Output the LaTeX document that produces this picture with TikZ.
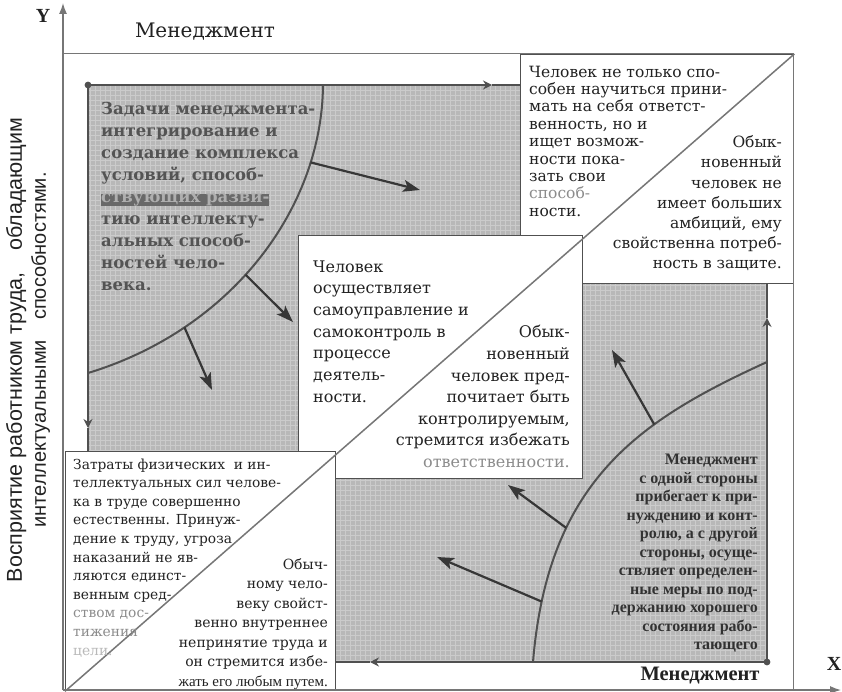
\documentclass[tikz,border=0pt]{standalone}
\usepackage{fontspec}
\setmainfont{DejaVu Serif}
\newfontfamily\timesface{Liberation Serif}
\newfontfamily\sideface{Liberation Sans}
\usetikzlibrary{arrows.meta}

\definecolor{greyfill}{RGB}{184,184,184}
\definecolor{inkdark}{RGB}{34,34,34}
\definecolor{ulink}{RGB}{84,84,84}
\definecolor{lrink}{RGB}{50,50,50}
\definecolor{edgegrey}{RGB}{80,80,80}
\definecolor{pointgrey}{RGB}{55,55,55}
\definecolor{axisgrey}{RGB}{118,118,118}
\definecolor{fadeink}{RGB}{140,140,140}
\definecolor{paleink}{RGB}{185,185,185}
\definecolor{garbleback}{RGB}{105,105,105}
\definecolor{garbleink}{RGB}{175,175,175}

\begin{document}
\begin{tikzpicture}[x=1pt,y=-1pt,
  greyzone/.style={fill=greyfill},
  texture/.style={draw=white, draw opacity=0.28, line width=0.5pt},
  rim/.style={draw=edgegrey, line width=2.6pt},
  rimtip/.style={rim, -{Stealth[length=9pt,width=9pt]}},
  trend/.style={draw=edgegrey, line width=2pt},
  pointer/.style={draw=pointgrey, line width=2.2pt, -{Stealth[length=17pt,width=12pt,inset=4pt]}},
  textbox/.style={draw=edgegrey, line width=1.3pt, fill=white, inner sep=0pt, anchor=north west},
  splitline/.style={draw=axisgrey, line width=1.5pt},
  axisline/.style={draw=axisgrey, line width=1.3pt},
  frameline/.style={draw=axisgrey, line width=1pt},
  blockL/.style={anchor=north west, inner sep=0pt, align=left, text=inkdark},
  blockR/.style={anchor=north east, inner sep=0pt, align=right, text=inkdark},
]
\useasboundingbox (0,0) rectangle (842,692);
\fill[white] (0,0) rectangle (842,692);

% shaded fields
\coordinate (ulNW) at (88,85);
\coordinate (ulSE) at (520,451);
\coordinate (lrNW) at (300,283);
\coordinate (lrSE) at (767,662);
\fill[greyzone] (ulNW) rectangle (ulSE);
\fill[greyzone] (lrNW) rectangle (lrSE);
\begin{scope}
  \clip (ulNW) rectangle (ulSE);
  \draw[texture, step=5pt] (88,451) grid (520,85);
\end{scope}
\begin{scope}
  \clip (lrNW) rectangle (lrSE);
  \draw[texture, step=5pt] (300,662) grid (767,283);
\end{scope}

% upper-left field: text, curve, pointers
\node[blockL, text=ulink, font={\bfseries\fontsize{16.5}{22}\selectfont}] (ultext) at (101,102)
  {Задачи менеджмента-\\интегрирование и\\создание комплекса\\условий, способ-\\
   {\fboxsep=0pt\colorbox{garbleback}{\textcolor{garbleink}{ствующих разви-}}}\\
   тию интеллекту-\\альных способ-\\ностей чело-\\века.};

\coordinate (ulbase) at (88,373);
\coordinate (ulc1) at (230,330);
\coordinate (ulc2) at (322,210);
\coordinate (ultop) at (323,85);
\draw[trend] (ulbase) .. controls (ulc1) and (ulc2) .. (ultop)
  coordinate[pos=0.25] (ulp3) coordinate[pos=0.45] (ulp2) coordinate[pos=0.79] (ulp1);
\coordinate (ula1) at (420,190);
\coordinate (ula2) at (293,322);
\coordinate (ula3) at (212,390);
\draw[pointer] (ulp1) -- (ula1);
\draw[pointer] (ulp2) -- (ula2);
\draw[pointer] (ulp3) -- (ula3);

% lower-right field: text, curve, pointers
\node[blockR, text=lrink, font={\timesface\bfseries\fontsize{16}{18.5}\selectfont}] (lrtext) at (758,454)
  {Менеджмент\\с одной стороны\\прибегает к при-\\нуждению и конт-\\ролю, а с другой\\
   стороны, осуще-\\ствляет определен-\\ные меры по под-\\держанию хорошего\\
   состояния рабо-\\тающего};

\coordinate (lrbase) at (533,662);
\coordinate (lrc1) at (548,480);
\coordinate (lrc2) at (640,420);
\coordinate (lrend) at (767,362);
\draw[trend] (lrbase) .. controls (lrc1) and (lrc2) .. (lrend)
  coordinate[pos=0.12] (lrp1) coordinate[pos=0.3] (lrp2) coordinate[pos=0.67] (lrp3);
\coordinate (lra1) at (437,557);
\coordinate (lra2) at (508,485);
\coordinate (lra3) at (612,350);
\draw[pointer] (lrp1) -- (lra1);
\draw[pointer] (lrp2) -- (lra2);
\draw[pointer] (lrp3) -- (lra3);

% heavy rims of the shaded fields
\coordinate (ulTopTip) at (492,85);
\coordinate (ulTopEnd) at (520,85);
\coordinate (ulLeftTip) at (88,428);
\coordinate (ulLeftEnd) at (88,451);
\draw[rimtip] (ulNW) -- (ulTopTip);
\draw[rim] (ulTopTip) -- (ulTopEnd);
\draw[rimtip] (ulNW) -- (ulLeftTip);
\draw[rim] (ulLeftTip) -- (ulLeftEnd);
\fill[edgegrey] (ulNW) circle[radius=3.4pt];

\coordinate (lrUpTip) at (767,318);
\coordinate (lrUpEnd) at (767,283);
\coordinate (lrLeftTip) at (370,662);
\coordinate (lrLeftEnd) at (335,662);
\draw[rimtip] (lrSE) -- (lrUpTip);
\draw[rim] (lrUpTip) -- (lrUpEnd);
\draw[rimtip] (lrSE) -- (lrLeftTip);
\draw[rim] (lrLeftTip) -- (lrLeftEnd);
\fill[edgegrey] (lrSE) circle[radius=3.4pt];

% white panels
\node[textbox, minimum width=273pt, minimum height=229pt] (trbox) at (520,54) {};
\node[textbox, minimum width=284pt, minimum height=243pt] (ctbox) at (298,235) {};
\node[textbox, minimum width=270pt, minimum height=239pt] (blbox) at (65,451) {};
\draw[splitline] (blbox.south west) -- (trbox.north east);

% top-right panel
\node[blockL, font={\fontsize{15.5}{17.4}\selectfont}] (trleft) at (529,65.6)
  {Человек не только спо-\\собен научиться прини-\\мать на себя ответст-\\венность, но и\\
   ищет возмож-\\ности пока-\\зать свои\\\textcolor{fadeink}{способ-}\\ности.};
\node[blockR, font={\fontsize{15.5}{20.1}\selectfont}] (trright) at (782,135.6)
  {Обык-\\новенный\\человек не\\имеет больших\\амбиций, ему\\свойственна потреб-\\ность в защите.};

% central panel
\node[blockL, font={\fontsize{16}{21.7}\selectfont}] (ctleft) at (313,260.3)
  {Человек\\осуществляет\\самоуправление и\\самоконтроль в\\процессе\\деятель-\\ности.};
\node[blockR, font={\fontsize{16}{21.6}\selectfont}] (ctright) at (570,325.3)
  {Обык-\\новенный\\человек пред-\\почитает быть\\контролируемым,\\стремится избежать\\
   \textcolor{fadeink}{ответственности.}};

% bottom-left panel
\node[blockL, font={\fontsize{13.8}{18.6}\selectfont}] (blleft) at (73,458.4)
  {Затраты физических\ \ и ин-\\теллектуальных сил челове-\\ка в труде совершенно\\
   естественны. Принуж-\\дение к труду, угроза\\наказаний не яв-\\ляются единст-\\
   венным сред-\\\textcolor{fadeink}{ством дос-}\\\textcolor{fadeink}{тижения}\\
   \textcolor{paleink}{цели.}};
\node[blockR, font={\fontsize{14}{19.5}\selectfont}] (blright) at (328,558.3)
  {Обыч-\\ному чело-\\веку свойст-\\венно внутреннее\\непринятие труда и\\
   он стремится избе-\\{\timesface\fontsize{15}{19.5}\selectfont жать его любым путем.}};

% frame and axes
\coordinate (origin) at (63,690);
\coordinate (ytip) at (63,3);
\coordinate (xtip) at (841,690);
\coordinate (frameTL) at (63,54);
\coordinate (frameTR) at (793,54);
\coordinate (frameBR) at (793,690);
\draw[frameline] (frameTL) -- (frameTR) -- (frameBR);
\draw[axisline, -{Latex[length=11pt,width=8pt]}] (origin) -- (ytip);
\draw[axisline, -{Latex[length=11pt,width=8pt]}] (origin) -- (xtip);

% labels
\node[text=inkdark, font={\timesface\bfseries\fontsize{20}{20}\selectfont}] (ylabel) at (43,16) {Y};
\node[text=inkdark, font={\timesface\bfseries\fontsize{20}{20}\selectfont}] (xlabel) at (834,664) {X};
\node[text=inkdark, font={\fontsize{20}{20}\selectfont}] (toplabel) at (205,32) {Менеджмент};
\node[text=inkdark, font={\timesface\bfseries\fontsize{20.5}{20.5}\selectfont}] (bottomlabel) at (700,676) {Менеджмент};
\node[rotate=90, text=inkdark, align=center, font={\sideface\fontsize{20}{24}\selectfont}] (sidelabel) at (28,350)
  {{\fontsize{21.5}{24}\selectfont Восприятие работником труда,\quad обладающим}\\интеллектуальными\quad способностями.};
\end{tikzpicture}
\end{document}
